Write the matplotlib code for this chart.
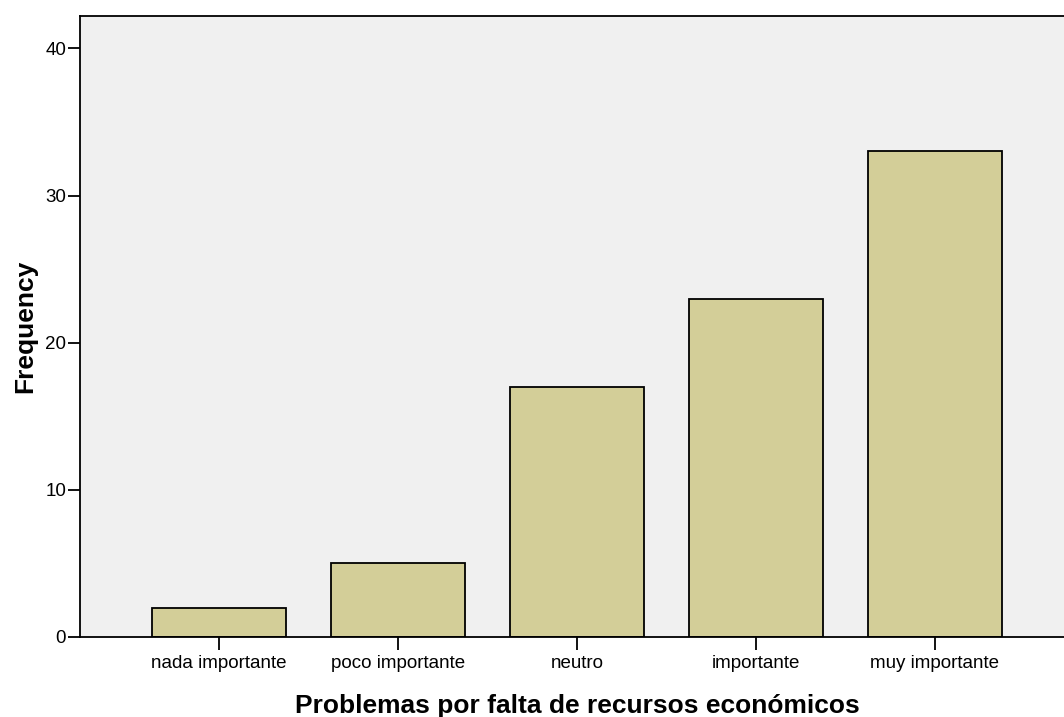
import matplotlib.pyplot as plt

# datos
categorias = ['nada importante', 'poco importante', 'neutro', 'importante', 'muy importante']
frecuencias = [2, 5, 17, 23, 33]

plt.rcParams['font.family'] = ['Liberation Sans', 'DejaVu Sans']

fig = plt.figure(figsize=(10.64, 7.17), dpi=100)
ax = fig.add_axes([0.0752, 0.1116, 0.934, 0.8661])
ax.set_facecolor('#F0F0F0')

pos = range(len(categorias))
ax.bar(pos, frecuencias, width=0.75, color='#D3CE98', edgecolor='black', linewidth=1.3)

ax.set_xlim(-0.777, 4.777)
ax.set_ylim(0, 42.2)
ax.set_yticks([0, 10, 20, 30, 40])
ax.set_xticks(list(pos))
ax.set_xticklabels(categorias)
ax.tick_params(axis='both', direction='out', length=9, width=1.3, labelsize=13.5, pad=1)
ax.tick_params(axis='x', pad=4)

for s in ax.spines.values():
    s.set_linewidth(1.3)

ax.set_ylabel('Frequency', fontsize=19, fontweight='bold', labelpad=6)
ax.set_xlabel('Problemas por falta de recursos económicos', fontsize=19, fontweight='bold', labelpad=16)

plt.savefig('out.png', dpi=100)
